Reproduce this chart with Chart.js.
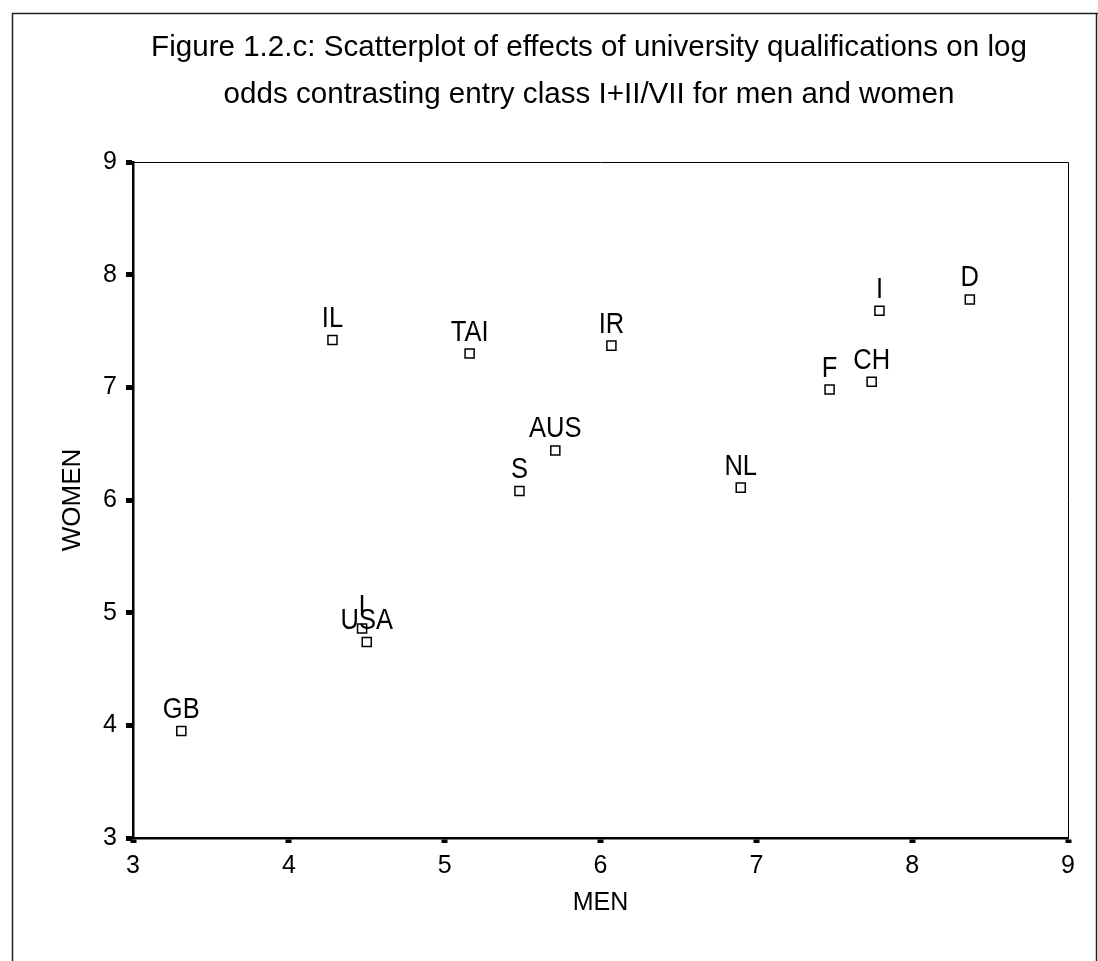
<!DOCTYPE html>
<html>
<head>
<meta charset="utf-8">
<script src="https://cdn.jsdelivr.net/npm/chart.js@4"></script>
<style>
  html, body { margin: 0; padding: 0; background: #fff; }
  canvas { display: block; }
</style>
</head>
<body>
<canvas id="chart" width="1098" height="961"></canvas>
<script>
// countries and their effects (men on x, women on y)
const countries = ["GB", "IL", "TAI", "IR", "AUS", "S", "NL", "F", "CH", "I", "D", "I", "USA"];
const menValues = [3.31, 4.28, 5.16, 6.07, 5.71, 5.48, 6.90, 7.47, 7.74, 7.79, 8.37, 4.47, 4.50];
const womenValues = [3.95, 7.42, 7.30, 7.37, 6.44, 6.08, 6.11, 6.98, 7.05, 7.68, 7.78, 4.86, 4.74];
const tickValues = [3, 4, 5, 6, 7, 8, 9];

const titleLines = [
  "Figure 1.2.c: Scatterplot of effects of university qualifications on log",
  "odds contrasting entry class I+II/VII for men and women"
];

const FONT = "'Liberation Sans', Arial, sans-serif";

// outer page frame, title and thin top/right box lines
const framePlugin = {
  id: "frame",
  afterDraw(chart) {
    const { ctx, chartArea } = chart;
    ctx.save();
    ctx.strokeStyle = "#222";
    ctx.lineWidth = 1.5;
    ctx.beginPath();
    ctx.moveTo(12.5, 961);
    ctx.lineTo(12.5, 13.5);
    ctx.lineTo(1098, 13.5);
    ctx.moveTo(1096.5, 13.5);
    ctx.lineTo(1096.5, 961);
    ctx.stroke();

    ctx.strokeStyle = "#000";
    ctx.lineWidth = 1;
    ctx.beginPath();
    ctx.moveTo(chartArea.left, chartArea.top + 0.5);
    ctx.lineTo(chartArea.right + 0.5, chartArea.top + 0.5);
    ctx.lineTo(chartArea.right + 0.5, chartArea.bottom);
    ctx.stroke();

    // two-line title, slightly condensed
    ctx.fillStyle = "#000";
    ctx.font = "29px " + FONT;
    ctx.textAlign = "center";
    ctx.textBaseline = "middle";
    const ys = [48, 95];
    titleLines.forEach((line, i) => {
      ctx.save();
      ctx.translate(589, ys[i]);
      ctx.scale(1.02, 1);
      ctx.fillText(line, 0, 0);
      ctx.restore();
    });
    ctx.restore();
  }
};

// text label above each point
const pointLabels = {
  id: "pointLabels",
  afterDatasetsDraw(chart) {
    const { ctx } = chart;
    const meta = chart.getDatasetMeta(0);
    ctx.save();
    ctx.font = "29px " + FONT;
    ctx.fillStyle = "#000";
    ctx.textAlign = "center";
    ctx.textBaseline = "alphabetic";
    meta.data.forEach((pt, i) => {
      ctx.save();
      ctx.translate(pt.x, pt.y - 13);
      ctx.scale(0.88, 1);
      ctx.fillText(countries[i], 0, 0);
      ctx.restore();
    });
    ctx.restore();
  }
};

const points = menValues.map((m, i) => ({ x: m, y: womenValues[i] }));

const ctx = document.getElementById("chart").getContext("2d");
new Chart(ctx, {
  type: "scatter",
  data: {
    datasets: [{
      data: points,
      pointStyle: "rect",
      pointRadius: 6.4,
      pointBorderWidth: 1.5,
      pointBorderColor: "#000",
      pointBackgroundColor: "#fff"
    }]
  },
  options: {
    responsive: false,
    animation: false,
    layout: { padding: { left: 0, top: 162, right: 30, bottom: 0 } },
    plugins: {
      legend: { display: false },
      tooltip: { enabled: false }
    },
    scales: {
      x: {
        type: "linear",
        min: 3,
        max: 9,
        afterBuildTicks: (scale) => { scale.ticks = tickValues.map(v => ({ value: v })); },
        afterFit: (scale) => { scale.height = 123; },
        ticks: { color: "#000", font: { family: FONT, size: 25 }, padding: 8 },
        grid: { drawOnChartArea: false, tickLength: 5, tickWidth: 6, color: "#000" },
        border: { color: "#000", width: 2.5 },
        title: {
          display: true,
          text: "MEN",
          color: "#000",
          font: { family: FONT, size: 25 },
          padding: { bottom: 43 }
        }
      },
      y: {
        type: "linear",
        min: 3,
        max: 9,
        afterBuildTicks: (scale) => { scale.ticks = tickValues.map(v => ({ value: v })); },
        afterFit: (scale) => { scale.width = 133; },
        ticks: { color: "#000", font: { family: FONT, size: 25 }, padding: 9 },
        grid: { drawOnChartArea: false, tickLength: 7, tickWidth: 5, color: "#000" },
        border: { color: "#000", width: 2.5 },
        title: {
          display: true,
          text: "WOMEN",
          color: "#000",
          font: { family: FONT, size: 26 },
          padding: { top: 57 }
        }
      }
    }
  },
  plugins: [framePlugin, pointLabels]
});
</script>
</body>
</html>
